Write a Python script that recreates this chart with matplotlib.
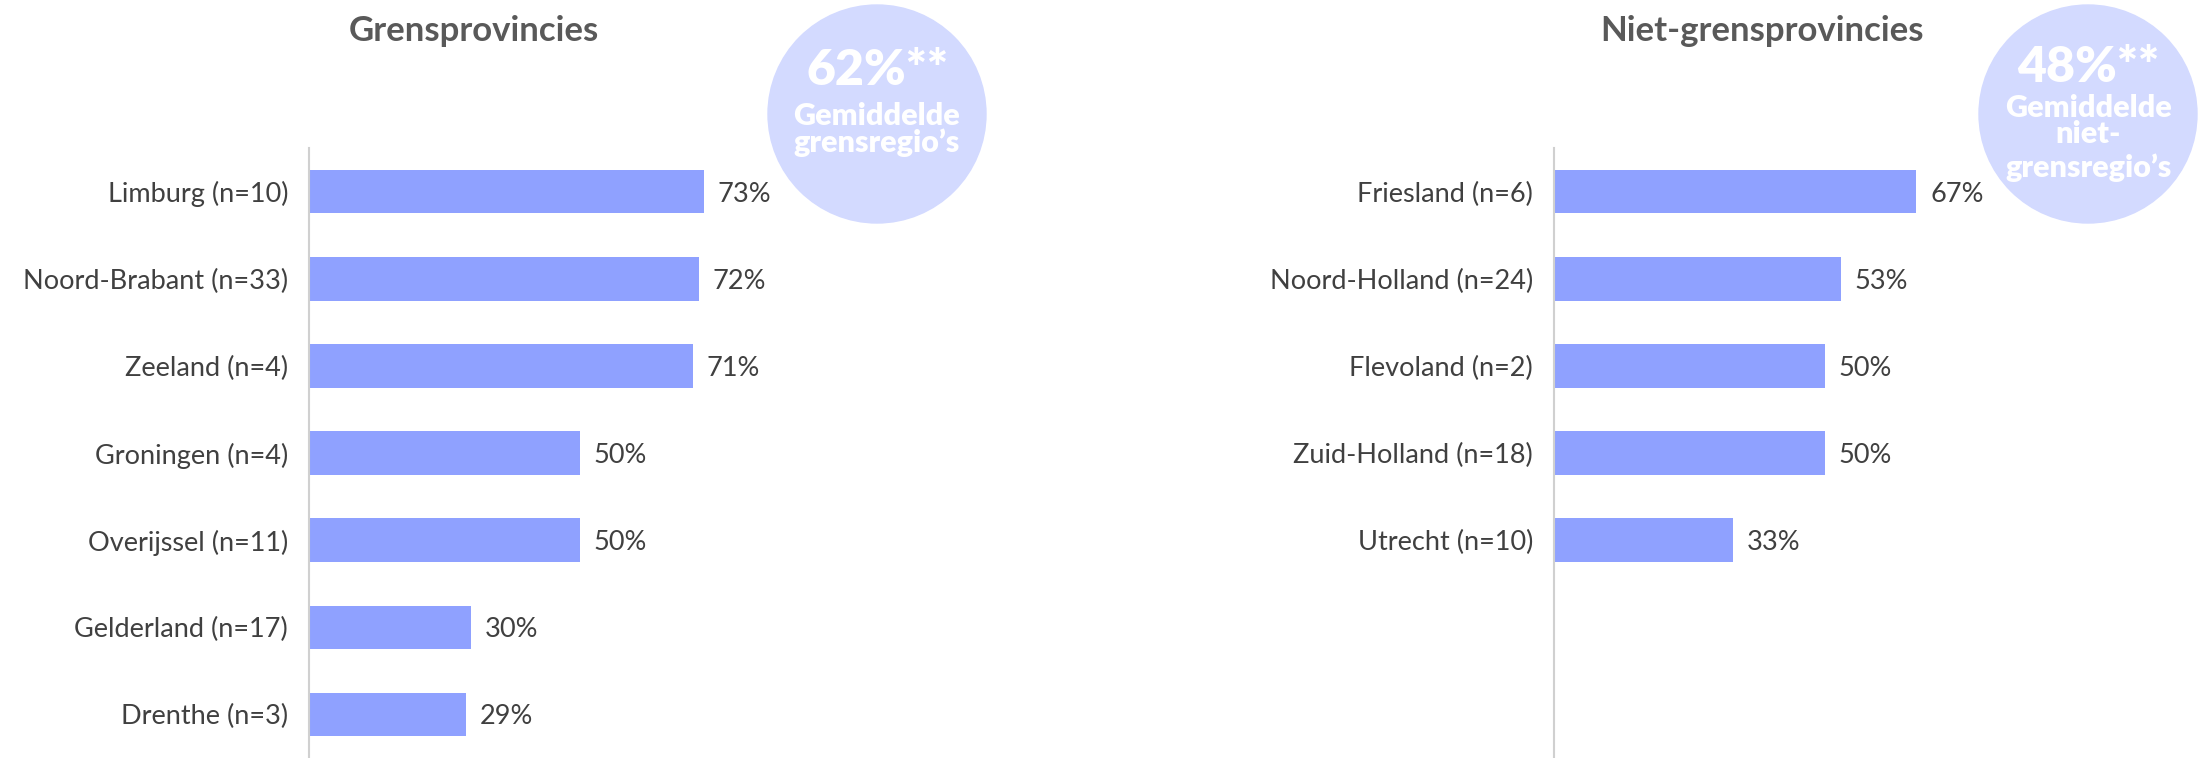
import matplotlib
matplotlib.use("Agg")
import matplotlib.pyplot as plt
from matplotlib.patches import Ellipse

plt.rcParams['font.family'] = ['Lato', 'DejaVu Sans']

# Data
left_title = "Grensprovincies"
left_labels = ["Limburg (n=10)", "Noord-Brabant (n=33)", "Zeeland (n=4)", "Groningen (n=4)",
               "Overijssel (n=11)", "Gelderland (n=17)", "Drenthe (n=3)"]
left_values = [73, 72, 71, 50, 50, 30, 29]

right_title = "Niet-grensprovincies"
right_labels = ["Friesland (n=6)", "Noord-Holland (n=24)", "Flevoland (n=2)",
                "Zuid-Holland (n=18)", "Utrecht (n=10)"]
right_values = [67, 53, 50, 50, 33]

left_avg = "62%**"
left_avg_lines = ["Gemiddelde", "grensregio’s"]
right_avg = "48%**"
right_avg_lines = ["Gemiddelde", "niet-", "grensregio’s"]

BAR = "#8FA1FF"
CIRC = "#D3DAFF"
TXT = "#404040"
TITLE = "#595959"

W, H = 2205, 758
fig = plt.figure(figsize=(W / 100, H / 100), dpi=100)

def panel(x0, labels, values):
    ax = fig.add_axes([x0 / W, 0, 541 / W, (H - 148) / H])
    ys = list(range(len(labels)))
    ax.barh(ys, values, height=0.5, color=BAR)
    ax.set_ylim(6.5, -0.5)
    ax.set_xlim(0, 100)
    ax.set_yticks(ys)
    ax.set_yticklabels(labels, fontsize=19.5, color=TXT)
    ax.tick_params(axis='y', length=0, pad=15)
    ax.set_xticks([])
    for s in ['top', 'right', 'bottom']:
        ax.spines[s].set_visible(False)
    ax.spines['left'].set_color('#D0D0D0')
    ax.spines['left'].set_linewidth(1.5)
    for y, v in zip(ys, values):
        ax.annotate(f"{v}%", (v, y), xytext=(10, 0), textcoords='offset points',
                    va='center_baseline', ha='left', fontsize=19.5, color=TXT)
    ax.patch.set_alpha(0)
    return ax

panel(309, left_labels, left_values)
panel(1554, right_labels, right_values)

fig.text(474 / W, 1 - 31 / H, left_title, ha='center', va='center', fontsize=25,
         fontweight='bold', color=TITLE)
fig.text(1762 / W, 1 - 31 / H, right_title, ha='center', va='center', fontsize=25,
         fontweight='bold', color=TITLE)

def bubble(cx, cy, big, lines, big_base, line_bases):
    e = Ellipse((cx / W, 1 - cy / H), 2 * 109 / W, 2 * 109 / H, transform=fig.transFigure,
                color=CIRC, zorder=5)
    fig.patches.append(e)
    fig.text(cx / W, 1 - big_base / H, big, ha='center', va='baseline', fontsize=36,
             fontweight='heavy', color='white', zorder=6)
    for t, b in zip(lines, line_bases):
        fig.text(cx / W, 1 - b / H, t, ha='center', va='baseline', fontsize=22,
                 fontweight='heavy', color='white', zorder=6)

bubble(877, 114, left_avg, left_avg_lines, 85, [125, 152])
bubble(2088, 114, right_avg, right_avg_lines, 82, [117, 143, 177])

fig.savefig("out.png", dpi=100, facecolor='white')
